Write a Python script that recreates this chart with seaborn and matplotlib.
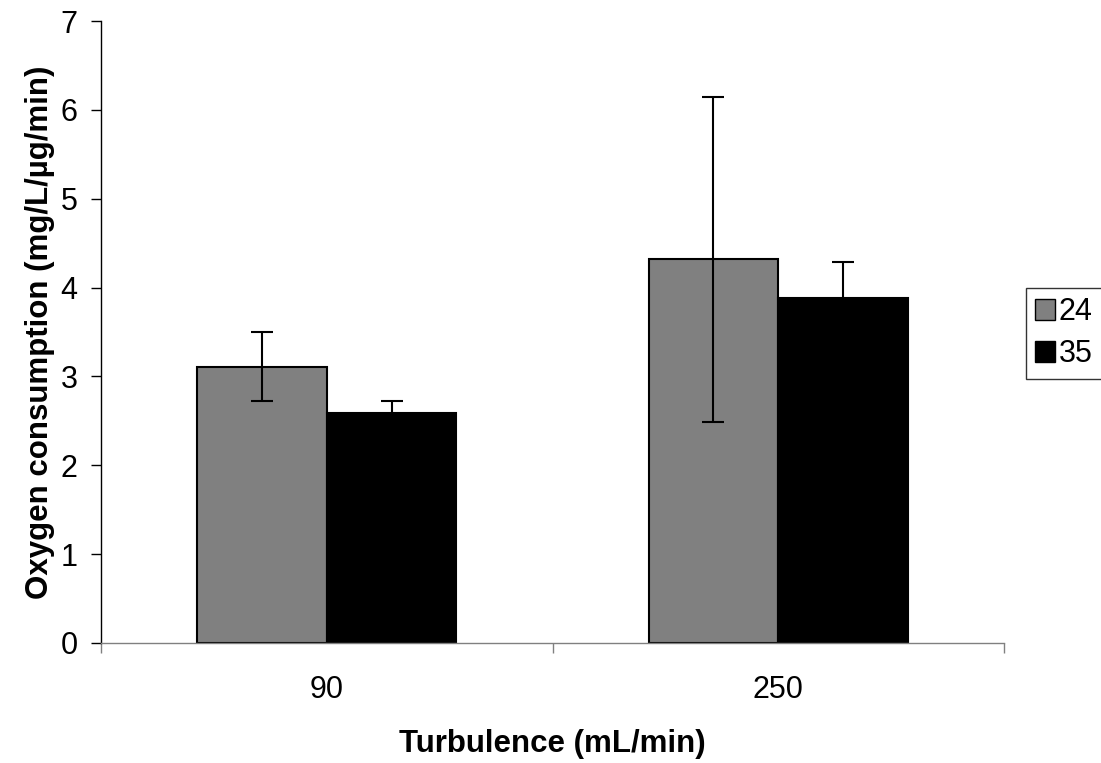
import matplotlib
matplotlib.use("Agg")
import matplotlib.pyplot as plt
import seaborn as sns
import pandas as pd
import numpy as np

turbulence = ["90", "250"]
temperatures = ["24", "35"]
values_24 = [3.11, 4.32]
values_35 = [2.59, 3.88]
err_24 = [0.39, 1.83]
err_35 = [0.13, 0.41]

sns.set_theme(style="white")
plt.rcParams['font.family'] = ['Liberation Sans', 'DejaVu Sans']
plt.rcParams['text.color'] = 'black'
plt.rcParams['axes.labelcolor'] = 'black'
plt.rcParams['xtick.color'] = 'black'
plt.rcParams['ytick.color'] = 'black'

df = pd.DataFrame({
    "Turbulence": turbulence * 2,
    "Temp": [temperatures[0]] * 2 + [temperatures[1]] * 2,
    "Value": values_24 + values_35,
})

fig = plt.figure(figsize=(11.01, 7.63), dpi=100)
ax = fig.add_axes([101/1101, 120/763, (1004-101)/1101, (643-21)/763])

sns.barplot(data=df, x="Turbulence", y="Value", hue="Temp", order=turbulence,
            hue_order=temperatures, palette=["#808080", "#000000"],
            errorbar=None, width=0.574, edgecolor="black", linewidth=1.5,
            saturation=1, ax=ax, legend=True)

errs = [err_24, err_35]
for cont, er in zip(ax.containers, errs):
    xs = [b.get_x() + b.get_width()/2 for b in cont]
    ys = [b.get_height() for b in cont]
    ax.errorbar(xs, ys, yerr=er, fmt="none", ecolor="black", elinewidth=1.5,
                capsize=8, capthick=1.5, zorder=5)

ax.set_xlim(-0.5, 1.5)
ax.set_ylim(0, 7)
ax.set_yticks(range(0, 8))
ax.set_xticks([0, 1])
ax.set_xticklabels(turbulence)
ax.tick_params(axis="x", length=0, labelsize=22, pad=23, labelcolor="black")
ax.tick_params(axis="y", length=7, width=1, labelsize=22, direction="out", left=True,
               pad=10, color="black", labelcolor="black")
# category boundary ticks
ax.set_xticks([-0.5, 0.5, 1.5], minor=True)
ax.tick_params(axis="x", which="minor", length=7, width=1, direction="out", bottom=True, color="#808080")

for s in ["top", "right"]:
    ax.spines[s].set_visible(False)
ax.spines["left"].set_color("black")
ax.spines["left"].set_linewidth(1)
ax.spines["bottom"].set_color("#808080")
ax.spines["bottom"].set_linewidth(1)

ax.set_xlabel("Turbulence (mL/min)", fontsize=22.5, fontweight="bold", labelpad=17, color="black")
ax.set_ylabel("Oxygen consumption (mg/L/\u00b5g/min)", fontsize=22.5, fontweight="bold", labelpad=4, color="black")

leg = ax.get_legend()
if leg is not None:
    leg.remove()
handles = [plt.Rectangle((0, 0), 1, 1, facecolor=c, edgecolor="black", linewidth=1)
           for c in ["#808080", "#000000"]]
lg = fig.legend(handles, temperatures, loc="upper left", bbox_to_anchor=(1026/1101, 1 - 288/763),
           frameon=True, fancybox=False, edgecolor="black", fontsize=22,
           handlelength=0.65, handleheight=0.65, handletextpad=0.12,
           borderpad=0.3, labelspacing=0.4, borderaxespad=0)
lg.get_frame().set_linewidth(1)
for t in lg.get_texts():
    t.set_color("black")

fig.savefig("out.png", dpi=100)
